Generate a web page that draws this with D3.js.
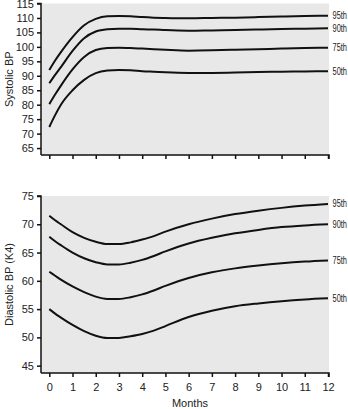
<!DOCTYPE html>
<html><head><meta charset="utf-8">
<script src="https://cdn.jsdelivr.net/npm/d3@7"></script>
<style>body{margin:0;background:#fff}svg{display:block}text{font-family:"Liberation Sans",Arial,sans-serif}</style>
</head><body>
<svg id="c" width="348" height="409"></svg>
<script>
const months = [0,0.25,0.5,1,1.5,2,2.5,3,3.5,4,4.5,5,6,7,8,9,10,11,12];
const percentiles = ["95th","90th","75th","50th"];
const systolic95 = [92,95.3,98.2,103.4,107.5,109.7,110.6,110.7,110.6,110.3,110.1,110,109.9,110,110.1,110.3,110.5,110.7,110.8];
const systolic90 = [87.4,90.3,93,98.6,103,105.3,106.1,106.3,106.3,106.1,106,105.8,105.6,105.7,105.8,106,106.2,106.3,106.4];
const systolic75 = [80.2,83.5,86.6,92.2,96.5,98.9,99.6,99.7,99.6,99.4,99.2,99,98.7,98.8,99,99.2,99.4,99.6,99.7];
const systolic50 = [72.3,76.4,80,85,88.6,90.9,91.8,92,91.9,91.6,91.4,91.2,91,91,91.1,91.3,91.4,91.5,91.6];
const diastolic95 = [71.5,70.7,70,68.6,67.6,66.9,66.5,66.5,66.8,67.3,67.9,68.7,70,71,71.8,72.4,72.9,73.3,73.6];
const diastolic90 = [67.8,67.0,66.3,65,64,63.3,62.9,62.9,63.2,63.7,64.4,65.2,66.6,67.6,68.4,69,69.5,69.8,70];
const diastolic75 = [61.6,60.9,60.2,59,58,57.2,56.8,56.8,57.1,57.6,58.3,59.1,60.5,61.5,62.2,62.7,63.1,63.4,63.6];
const diastolic50 = [55,54.2,53.5,52.2,51.1,50.3,49.9,49.9,50.2,50.6,51.2,52,53.6,54.7,55.5,56,56.4,56.7,56.9];
const xTicks = [0,1,2,3,4,5,6,7,8,9,10,11,12];
const sysTicks = [65,70,75,80,85,90,95,100,105,110,115];
const diaTicks = [45,50,55,60,65,70,75];

const svg = d3.select("#c");
const x = d3.scaleLinear().domain([0,12]).range([49.3,328]);
const left = 41, right = 329;

function panel(opts){
  const y = d3.scaleLinear().domain(opts.domain).range([opts.bottom, opts.top]);
  const g = svg.append("g");
  g.append("rect").attr("x",left).attr("y",opts.top).attr("width",right-left).attr("height",opts.bottom-opts.top).attr("fill","#e8e8e8");
  const line = d3.line().x((d,i)=>x(months[i])).y(d=>y(d)).curve(d3.curveMonotoneX);
  opts.series.forEach((s,k)=>{
    g.append("path").attr("d",line(s)).attr("fill","none").attr("stroke","#111").attr("stroke-width",2);
    g.append("text").attr("x",332.5).attr("y",y(s[s.length-1])).attr("dy","0.35em")
      .attr("font-size",10).attr("fill","#222")
      .attr("textLength",14.5).attr("lengthAdjust","spacingAndGlyphs").text(percentiles[k]);
  });
  const ya = d3.axisLeft(y).tickValues(opts.ticks).tickSize(4).tickPadding(3);
  const yg = g.append("g").attr("transform",`translate(${left},0)`).call(ya);
  yg.select(".domain").attr("d",`M-4,${opts.top}H0V${opts.bottom}`);
  const xa = d3.axisBottom(x).tickValues(xTicks).tickSize(4).tickPadding(6);
  if(!opts.xlabels) xa.tickFormat("");
  const xg = g.append("g").attr("transform",`translate(0,${opts.bottom})`).call(xa);
  xg.select(".domain").attr("d",`M${left},0H${right}V4`);
  [yg,xg].forEach(a=>{
    a.selectAll(".domain").attr("stroke","#111").attr("stroke-width",1.5).attr("fill","none");
    a.selectAll(".tick line").attr("stroke","#111").attr("stroke-width",1.5);
    a.selectAll("text").attr("font-size",11).attr("fill","#222").attr("font-family","Liberation Sans, Arial, sans-serif");
  });
  g.append("text").attr("transform",`translate(13,${(opts.top+opts.bottom)/2}) rotate(-90)`)
    .attr("text-anchor","middle").attr("font-size",11).attr("fill","#222").text(opts.label);
}

panel({domain:[62.6,115], top:3.5, bottom:155, series:[systolic95,systolic90,systolic75,systolic50], ticks:sysTicks, label:"Systolic BP", xlabels:false});
panel({domain:[43.7,75], top:196, bottom:373, series:[diastolic95,diastolic90,diastolic75,diastolic50], ticks:diaTicks, label:"Diastolic BP (K4)", xlabels:true});

svg.append("text").attr("x",190).attr("y",407).attr("text-anchor","middle").attr("font-size",11).attr("fill","#222").text("Months");
</script>
</body></html>
